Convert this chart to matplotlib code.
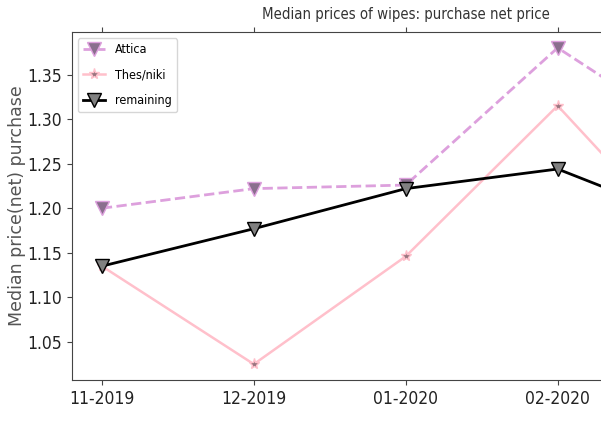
import matplotlib
matplotlib.use("Agg")
import matplotlib.pyplot as plt
from matplotlib.font_manager import FontProperties

months = ["11-2019", "12-2019", "01-2020", "02-2020", "03-2020"]
attica = [1.20, 1.222, 1.226, 1.380, 1.269]
thesniki = [1.135, 1.025, 1.146, 1.315, 1.131]
remaining = [1.135, 1.177, 1.222, 1.244, 1.177]
yticks = [1.05, 1.10, 1.15, 1.20, 1.25, 1.30, 1.35]


def cond(size):
    return FontProperties(family="DejaVu Sans", stretch="condensed", size=size)


fig = plt.figure(figsize=(6.01, 4.21), dpi=100)
ax = fig.add_axes([71.5 / 601, 41 / 421, 668.5 / 601, 348 / 421])

x = list(range(len(months)))
ax.plot(x, attica, linestyle="--", color="plum", linewidth=2, marker="v",
        markersize=10, markerfacecolor="#8a6f8e", markeredgecolor="plum", label="Attica")
ax.plot(x, thesniki, linestyle="-", color="pink", linewidth=1.8, marker="*",
        markersize=8, markerfacecolor="#9a7680", markeredgecolor="pink", label="Thes/niki")
ax.plot(x, remaining, linestyle="-", color="black", linewidth=2, marker="v",
        markersize=10, markerfacecolor="grey", markeredgecolor="black", label="remaining")

shown = 4
ax.set_xticks(x[:shown])
ax.set_xticklabels(months[:shown], fontproperties=cond(12.5), color="#222222")
ax.set_yticks(yticks)
ax.set_yticklabels([f"{v:.2f}" for v in yticks], fontproperties=cond(12.5), color="#222222")
ax.tick_params(top=True, labeltop=False, color="#444444")
for s in ax.spines.values():
    s.set_color("#444444")

ax.set_ylabel("Median price(net) purchase", fontsize=12.5, color="#555555", labelpad=0.5)
ax.set_title("Median prices of wipes: purchase net price", fontproperties=cond(10.7),
             color="#333333", pad=9)

leg = ax.legend(loc="upper left", prop=cond(9), labelspacing=1.0, handlelength=1.8)

fig.savefig("out.png", dpi=100)
